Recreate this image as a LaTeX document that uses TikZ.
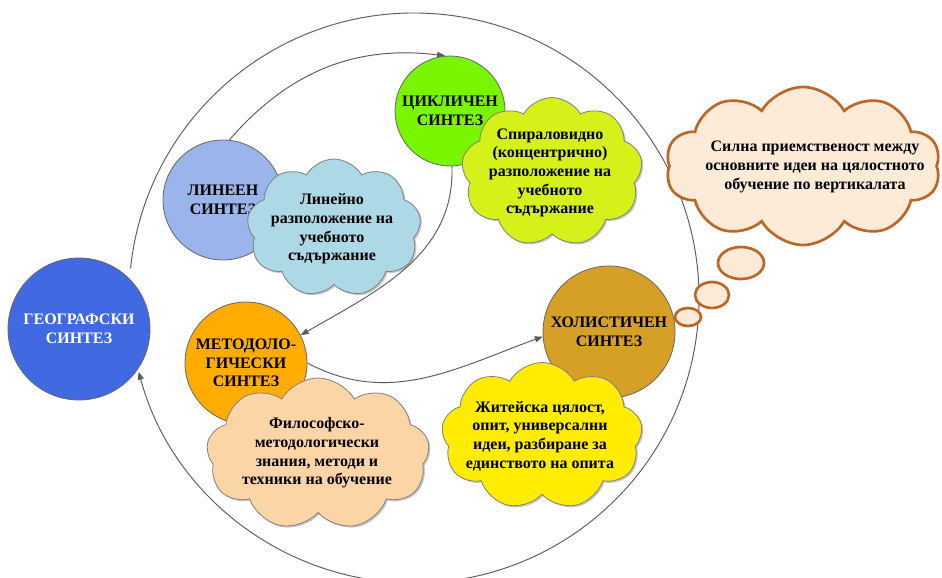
\documentclass[tikz,border=0pt]{standalone}
\usepackage{fontspec}
\setmainfont{Liberation Serif}
\usetikzlibrary{shapes.symbols,shapes.geometric,arrows.meta,shadows,calc,backgrounds}
\definecolor{cGeo}{RGB}{65,105,225}
\definecolor{cLin}{RGB}{155,180,235}
\definecolor{cCyc}{RGB}{122,245,0}
\definecolor{cMet}{RGB}{255,172,0}
\definecolor{cHol}{RGB}{214,160,38}
\definecolor{kLin}{RGB}{173,216,230}
\definecolor{kCyc}{RGB}{214,240,25}
\definecolor{kMet}{RGB}{252,213,166}
\definecolor{kHol}{RGB}{255,236,0}
\definecolor{kTho}{RGB}{253,235,216}
\definecolor{kThoB}{RGB}{190,102,40}
\definecolor{cLine}{RGB}{90,90,90}
\begin{document}
\begin{tikzpicture}[x=0.75pt,y=-0.75pt,
  font=\fontsize{12}{14}\selectfont\bfseries,
  circ/.style={circle, draw=black!60, line width=0.6pt, inner sep=0pt, align=center},
  cld/.style={cloud, cloud puffs=9, cloud puff arc=120, cloud ignores aspect, draw=black!50, line width=0.6pt, inner sep=0pt,
     drop shadow={shadow xshift=1.2pt, shadow yshift=-1.2pt, opacity=0.3, fill=black!70}},
  thocld/.style={cloud, cloud puffs=10, cloud puff arc=120, cloud ignores aspect, draw=kThoB, fill=kTho, line width=2pt, inner sep=0pt},
  bubble/.style={ellipse, draw=kThoB, fill=kTho, line width=2pt, inner sep=0pt},
  txt/.style={align=center, inner sep=0pt},
  conn/.style={draw=cLine, line width=0.7pt, -{Triangle[length=6pt,width=4.5pt]}},
]
\useasboundingbox (0,0) rectangle (942,578);

% circles
\node[circ, fill=cGeo, text=white, minimum size=106.5pt] (geo) at (79,329) {ГЕОГРАФСКИ\\СИНТЕЗ};
\node[circ, fill=cLin, minimum size=90pt] (lin) at (223,200) {ЛИНЕЕН\\СИНТЕЗ};
\node[circ, fill=cCyc, minimum size=82.5pt] (cyc) at (450,111) {ЦИКЛИЧЕН\\СИНТЕЗ};
\node[circ, fill=cMet, minimum size=91.5pt] (met) at (246,363) {МЕТОДОЛО-\\ГИЧЕСКИ\\СИНТЕЗ};
\node[circ, fill=cHol, minimum size=99pt] (hol) at (609,332) {ХОЛИСТИЧЕН\\СИНТЕЗ};

% clouds
\node[cld, fill=kLin, minimum width=130.5pt, minimum height=103.5pt] (klin) at (334,228) {};
\node[txt] (tlin) at (332,229) {Линейно\\разположение на\\учебното\\съдържание};
\node[cld, fill=kCyc, minimum width=135.75pt, minimum height=111.75pt] (kcyc) at (552,172) {};
\node[txt] (tcyc) at (550,173) {Спираловидно\\(концентрично)\\разположение на\\учебното\\съдържание};
\node[cld, fill=kMet, minimum width=167.25pt, minimum height=114pt] (kmet) at (318,454) {};
\node[txt] (tmet) at (317,453) {Философско-\\методологически\\знания, методи и\\техники на обучение};
\node[cld, fill=kHol, minimum width=150.75pt, minimum height=110.25pt] (khol) at (542,436) {};
\node[txt] (thol) at (540,436) {Житейска цялост,\\опит, универсални\\идеи, разбиране за\\единството на опита};

% thought cloud
\node[thocld, minimum width=206pt, minimum height=118.5pt] (ktho) at (803,166) {};
\node[txt] (ttho) at (815,167) {Силна приемственост между\\основните идеи на цялостното\\обучение по вертикалата};
\node[bubble, minimum width=34.5pt, minimum height=24pt] (b1) at (741,263) {};
\node[bubble, minimum width=25.5pt, minimum height=19.5pt] (b2) at (712,295) {};
\node[bubble, minimum width=19.5pt, minimum height=13.5pt] (b3) at (688,317) {};

\begin{scope}[on background layer]
  \fill[white] (0,0) rectangle (942,578);
  \coordinate (C) at (414,298);
  \coordinate (ostart) at ($(C)+(186:285)$);
  \draw[conn] (ostart) arc[start angle=174, end angle=-165, radius=213.75pt];
  \draw[conn] (lin.84) to[out=49, in=173] (cyc.95);
  \draw[conn] (cyc.-88) to[out=-88, in=30] (met.27);
  \draw[conn] (met.east) to[out=-28, in=200] (hol.184);
\end{scope}
\end{tikzpicture}
\end{document}
